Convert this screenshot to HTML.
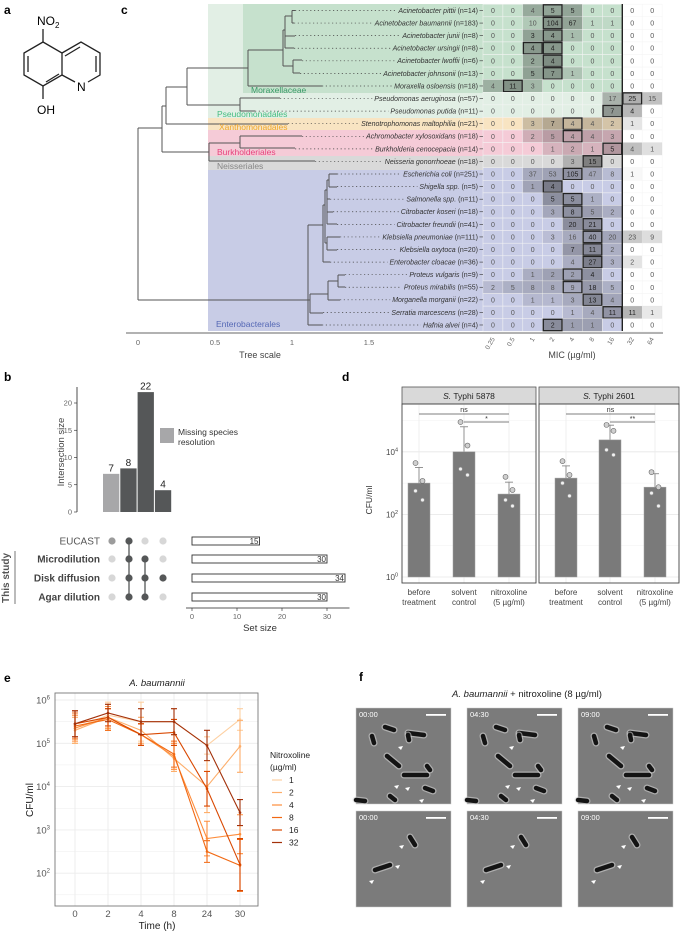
<!DOCTYPE html>
<html><head><meta charset="utf-8"><style>
html,body{margin:0;padding:0;background:#fff}
svg{display:block;font-family:"Liberation Sans",Arial,sans-serif}
</style></head><body>
<svg id="fig" width="685" height="933" viewBox="0 0 685 933" xmlns="http://www.w3.org/2000/svg">
<text x="4" y="14" font-size="12" font-weight="bold">a</text>
<text x="121" y="14" font-size="12" font-weight="bold">c</text>
<text x="4" y="381" font-size="12" font-weight="bold">b</text>
<text x="342" y="381" font-size="12" font-weight="bold">d</text>
<text x="4" y="682" font-size="12" font-weight="bold">e</text>
<text x="359" y="681" font-size="12" font-weight="bold">f</text>

<g stroke="#222" stroke-width="1.3" fill="none">
<polyline points="43,42 62,53 62,75 43,86 24,75 24,53 43,42"/>
<polyline points="62,53 81,42 100,53 100,75 88,82"/>
<line x1="62" y1="75" x2="75" y2="82"/>
<line x1="28" y1="56" x2="28" y2="72"/>
<line x1="46" y1="82" x2="59" y2="74"/>
<line x1="65" y1="56" x2="80" y2="47"/>
<line x1="96" y1="56" x2="96" y2="72"/>
<line x1="43" y1="42" x2="43" y2="29"/>
<line x1="43" y1="86" x2="43" y2="99"/>
</g>
<text x="37" y="25" font-size="12">NO<tspan font-size="8" dy="3">2</tspan></text>
<text x="77" y="91" font-size="12">N</text>
<text x="37" y="114" font-size="12">OH</text>

<rect x="208" y="4" width="275" height="114" fill="#e2efe5"/>
<rect x="243" y="4" width="240" height="89" fill="#c6e1cd"/>
<rect x="208" y="118" width="275" height="12" fill="#f8e4c2"/>
<rect x="208" y="130" width="275" height="26" fill="#f5cbd7"/>
<rect x="208" y="156" width="275" height="14" fill="#d9d9d9"/>
<rect x="208" y="170" width="275" height="161" fill="#c8cce6"/>
<g id="tree"></g>
<g id="heat"></g>
<text x="251" y="93" font-size="8.5" fill="#3a9a68">Moraxellaceae</text>
<text x="217" y="117" font-size="8.5" fill="#46bd82">Pseudomonadales</text>
<text x="219" y="130" font-size="8.5" fill="#efa62c">Xanthomonadales</text>
<text x="217" y="155" font-size="8.5" fill="#e6437d">Burkholderiales</text>
<text x="217" y="169" font-size="8.5" fill="#858585">Neisseriales</text>
<text x="216" y="327" font-size="8.5" fill="#5568b5">Enterobacterales</text>
<line x1="126" y1="333" x2="663" y2="333" stroke="#333" stroke-width="0.8"/>
<g font-size="7.5" fill="#666" text-anchor="middle">
<text x="138" y="345">0</text><text x="215" y="345">0.5</text><text x="292" y="345">1</text><text x="369" y="345">1.5</text></g>
<text x="260" y="358" font-size="9" fill="#444" text-anchor="middle">Tree scale</text>
<text x="572" y="358" font-size="9" fill="#444" text-anchor="middle">MIC (µg/ml)</text>

<g id="panelB"></g>
<g id="panelD"></g>
<g id="panelE"></g>
<g id="panelF"></g>
</svg>
<script>
const NS='http://www.w3.org/2000/svg';
function mk(tag,attrs,parent){const e=document.createElementNS(NS,tag);for(const k in attrs)e.setAttribute(k,attrs[k]);parent.appendChild(e);return e;}

const micCols=['0.25','0.5','1','2','4','8','16','32','64'];
const species=['Acinetobacter pittii','Acinetobacter baumannii','Acinetobacter junii','Acinetobacter ursingii','Acinetobacter lwoffii','Acinetobacter johnsonii','Moraxella osloensis','Pseudomonas aeruginosa','Pseudomonas putida','Stenotrophomonas maltophilia','Achromobacter xylosoxidans','Burkholderia cenocepacia','Neisseria gonorrhoeae','Escherichia coli','Shigella spp.','Salmonella spp.','Citrobacter koseri','Citrobacter freundii','Klebsiella pneumoniae','Klebsiella oxytoca','Enterobacter cloacae','Proteus vulgaris','Proteus mirabilis','Morganella morganii','Serratia marcescens','Hafnia alvei'];
const nCounts=[14,183,8,8,6,13,18,57,11,21,18,14,18,251,5,11,18,41,111,20,36,9,55,22,28,4];
const micCounts=[
[0,0,4,5,5,0,0,0,0],[0,0,10,104,67,1,1,0,0],[0,0,3,4,1,0,0,0,0],[0,0,4,4,0,0,0,0,0],[0,0,2,4,0,0,0,0,0],[0,0,5,7,1,0,0,0,0],[4,11,3,0,0,0,0,0,0],
[0,0,0,0,0,0,17,25,15],[0,0,0,0,0,0,7,4,0],[0,0,3,7,4,4,2,1,0],[0,0,2,5,4,4,3,0,0],[0,0,0,1,2,1,5,4,1],[0,0,0,0,3,15,0,0,0],
[0,0,37,53,105,47,8,1,0],[0,0,1,4,0,0,0,0,0],[0,0,0,5,5,1,0,0,0],[0,0,0,3,8,5,2,0,0],[0,0,0,0,20,21,0,0,0],[0,0,0,3,16,40,20,23,9],[0,0,0,0,7,11,2,0,0],[0,0,0,0,4,27,3,2,0],[0,0,1,2,2,4,0,0,0],[2,5,8,8,9,18,5,0,0],[0,0,1,1,3,13,4,0,0],[0,0,0,0,1,4,11,11,1],[0,0,0,2,1,1,0,0,0]];
const boxedCols=[[3],[3],[3],[2,3],[3],[3],[1],[7],[6],[4],[4],[6],[5],[4],[3],[4],[4],[5],[5],[5],[5],[4],[4],[5],[6],[3]];
const groupOf=[0,0,0,0,0,0,0,1,1,2,3,3,4,5,5,5,5,5,5,5,5,5,5,5,5,5];
const groupColors=['#c6e1cd','#e2efe5','#f8e4c2','#f5cbd7','#d9d9d9','#c8cce6'];
const leafTips=[295,294,295,294,302,300,322,280,255,288,302,295,315,337,337,330,333,337,340,337,330,345,345,340,323,322];

const colX=j=>483+19.9*j;
const rowTop=i=>4.2+12.58*i;
const rowC=i=>rowTop(i)+6.29;

const heat=document.getElementById('heat');
const tree=document.getElementById('tree');
micCounts.forEach((row,i)=>{
  row.forEach((v,j)=>{
    const base=j>=7?'#ffffff':groupColors[groupOf[i]];
    const c=mk('rect',{x:colX(j),y:rowTop(i),width:19.9,height:12.58,fill:base,stroke:'#f4f4f4','stroke-width':0.5},heat);
    
    
    const a=v>0?0.58*Math.sqrt(v/nCounts[i]):0;
    if(a>0){const o=mk('rect',{x:colX(j),y:rowTop(i),width:19.9,height:12.58,fill:'#303030','fill-opacity':a},heat);
      
      }
    const t=mk('text',{x:colX(j)+9.95,y:rowC(i)+2.5,'font-size':7,'text-anchor':'middle',fill:a>0.32?'#222':'#555'},heat);
    t.textContent=v;
    
    
  });
  boxedCols[i].forEach(j=>{
    const b=mk('rect',{x:colX(j)+0.6,y:rowTop(i)+0.6,width:18.7,height:11.4,fill:'none',stroke:'#222','stroke-width':1.3},heat);
    
    
  });
  const lab=mk('text',{x:478,y:rowC(i)+2.4,'font-size':7,'text-anchor':'end',fill:'#333'},heat);
  
  
  const s1=mk('tspan',{'font-style':'italic'},lab); s1.textContent=species[i];
  const s2=mk('tspan',{},lab); s2.textContent=' (n='+nCounts[i]+')';
  const tk=mk('line',{x1:479.5,y1:rowC(i),x2:483,y2:rowC(i),stroke:'#333','stroke-width':0.6},heat);
  
  
  let w=lab.getComputedTextLength?lab.getComputedTextLength():120;
  const dl=mk('line',{x1:leafTips[i],y1:rowC(i),x2:Math.max(leafTips[i],476-w),y2:rowC(i),stroke:'#444','stroke-width':0.7,'stroke-dasharray':'1.2 2.6'},tree);
  
  
});
const thr=mk('line',{x1:colX(7),y1:4,x2:colX(7),y2:331,stroke:'#222','stroke-width':1.4},heat);


micCols.forEach((m,j)=>{
  const t=mk('text',{x:0,y:0,'font-size':6.5,fill:'#666','text-anchor':'end',transform:`translate(${colX(j)+12},${339}) rotate(-60)`},heat);
  t.textContent=m;
  
  
});
const segs=[[138,128,138,300],[138,128,162,128],[138,300,308,300],[162,106,162,152],[162,106,166,106],[162,152,209,152],
[166,87,166,124],[166,124,288,124],[166,87,187,87],[187,68,187,105],[187,68,248,68],[187,105,240,105],
[240,98,240,111],[240,98,280,98],[240,111,255,111],[248,50,248,86],[248,86,322,86],[248,50,283,50],
[283,30,283,66],[283,66,293,66],[293,60,293,73],[293,60,302,60],[293,73,300,73],[283,30,285,30],
[285,16,285,48],[285,16,292,16],[285,36,295,36],[285,48,294,48],[292,10.5,292,23],[292,10.5,295,10.5],[292,23,294,23],
[209,143,209,161],[209,161,315,161],[209,143,240,143],[240,136,240,148],[240,136,302,136],[240,148,295,148],
[308,225,308,325],[308,325,322,325],[308,225,323,225],[310,294,310,313],[308,300,310,300],[310,313,323,313],[310,294,328,294],
[328,281,328,300],[328,300,340,300],[328,281,338,281],[338,275,338,287],[338,275,345,275],[338,287,345,287],
[323,205,323,262],[323,262,330,262],[323,205,325,205],[325,190,325,243],[325,243,327,243],[327,237,327,250],[327,237,340,237],[327,250,337,250],
[325,190,327,190],[327,180,327,224],[327,180,329,180],[329,174,329,187],[329,174,337,174],[329,187,337,187],[327,199,330,199],[327,212,333,212],[327,224,337,224]];
segs.forEach(s=>{const l=mk('line',{x1:s[0],y1:s[1],x2:s[2],y2:s[3],stroke:'#555','stroke-width':1},tree);
  
  });

/* ---------- panel b ---------- */
const interValues=[7,8,22,4];
const setNames=['EUCAST','Microdilution','Disk diffusion','Agar dilution'];
const setSizes=[15,30,34,30];
const interTicks=[0,5,10,15,20];
const setTicks=[0,10,20,30];
const memberships=[[0],[0,1,2,3],[1,2,3],[2]];
const B=document.getElementById('panelB');
const yB=v=>512-5.45*v, xS=v=>192+4.5*v;
const barX=[103,120.3,137.6,154.9], dotX=[112,129,145,163], rowYB=[541,559,578,597];
mk('line',{x1:77,y1:387,x2:77,y2:512,stroke:'#222','stroke-width':0.8},B);
interTicks.forEach(t=>{mk('line',{x1:74,y1:yB(t),x2:77,y2:yB(t),stroke:'#222','stroke-width':0.6},B);
 const tx=mk('text',{x:72,y:yB(t)+2.5,'font-size':7.5,fill:'#666','text-anchor':'end'},B);tx.textContent=t;
 
 });
const yl=mk('text',{x:0,y:0,'font-size':9.5,fill:'#444','text-anchor':'middle',transform:'translate(64,452) rotate(-90)'},B);yl.textContent='Intersection size';


interValues.forEach((v,i)=>{
 const r=mk('rect',{x:barX[i],y:yB(v),width:16.3,height:512-yB(v),fill:i==0?'#a7a7a9':'#555758'},B);
 
 
 const t=mk('text',{x:barX[i]+8.1,y:yB(v)-2.5,'font-size':10,'text-anchor':'middle',fill:'#222'},B);t.textContent=v;
 
 
});
const lg=mk('rect',{x:160,y:428,width:14,height:15,fill:'#a7a7a9'},B);


const lt=mk('text',{x:178,y:435,'font-size':8.5,fill:'#333'},B);lt.textContent='Missing species';


const lt2=mk('text',{x:178,y:445,'font-size':8.5,fill:'#333'},B);lt2.textContent='resolution';


setNames.forEach((n,r)=>{
 const t=mk('text',{x:100,y:rowYB[r]+3.5,'font-size':10,'text-anchor':'end',fill:r==0?'#555':'#444','font-weight':r==0?'normal':'bold'},B);t.textContent=n;
 
 
 dotX.forEach((x,c)=>{const on=memberships[c].includes(r);
  const d=mk('circle',{cx:x,cy:rowYB[r],r:3.6,fill:on?(c==0?'#9c9c9c':'#555758'):'#d7d7d7'},B);
  
  });
 const sb=mk('rect',{x:xS(0),y:rowYB[r]-4,width:xS(setSizes[r])-xS(0),height:8,fill:'#fff',stroke:'#333','stroke-width':0.9},B);
 
 
 const sv=mk('text',{x:xS(setSizes[r])-1,y:rowYB[r]+3,'font-size':8,'text-anchor':'end',fill:'#333'},B);sv.textContent=setSizes[r];
 
 
});
memberships.forEach((m,c)=>{if(m.length>1){const ys=m.map(r=>rowYB[r]);
 const l=mk('line',{x1:dotX[c],y1:Math.min(...ys),x2:dotX[c],y2:Math.max(...ys),stroke:'#555758','stroke-width':1.3},B);
 
 }});
const st=mk('text',{x:0,y:0,'font-size':10,'font-weight':'bold',fill:'#555','text-anchor':'middle',transform:'translate(9,578) rotate(-90)'},B);st.textContent='This study';


mk('line',{x1:15,y1:551,x2:15,y2:604,stroke:'#777','stroke-width':1},B);
mk('line',{x1:186,y1:608,x2:xS(35),y2:608,stroke:'#222','stroke-width':0.8},B);
setTicks.forEach(t=>{mk('line',{x1:xS(t),y1:608,x2:xS(t),y2:611,stroke:'#222','stroke-width':0.6},B);
 const tx=mk('text',{x:xS(t),y:619,'font-size':7.5,fill:'#666','text-anchor':'middle'},B);tx.textContent=t;
 
 });
const sst=mk('text',{x:260,y:631,'font-size':9.5,fill:'#333','text-anchor':'middle'},B);sst.textContent='Set size';



/* ---------- panel d ---------- */
const strainNames=['Typhi 5878','Typhi 2601'];
const treatments=[['before','treatment'],['solvent','control'],['nitroxoline','(5 µg/ml)']];
const barMeansLog=[[3.0,4.0,2.65],[3.16,4.38,2.87]];
const barUpperLog=[[3.5,4.8,3.03],[3.55,4.85,3.3]];
const pointsLog=[[[3.64,3.07,2.75,2.46],[4.95,4.2,3.45,3.26],[3.2,2.78,2.46,2.27]],[[3.7,3.26,3.0,2.59],[4.86,4.67,4.06,3.9],[3.35,2.87,2.68,2.27]]];
const sigLabels=[['ns','*'],['ns','**']];
const yTicksD=[0,2,4];
const D=document.getElementById('panelD');
const yD=l=>577-31.3*l;
const panX=[[402,536],[539,679]], barCx=[[419,464,509],[566,610,655]];
[0,1].forEach(p=>{
 const [x0,x1]=panX[p];
 const strip=mk('rect',{x:x0,y:387,width:x1-x0,height:17,fill:'#d9d9d9',stroke:'#555','stroke-width':0.8},D);
 
 
 const sl=mk('text',{x:(x0+x1)/2,y:399,'font-size':8.5,'text-anchor':'middle',fill:'#222'},D);
 
 
 const i1=mk('tspan',{'font-style':'italic'},sl);i1.textContent='S.';const i2=mk('tspan',{},sl);i2.textContent=' '+strainNames[p];
 for(let l=0;l<=5;l+=1){mk('line',{x1:x0,y1:yD(l),x2:x1,y2:yD(l),stroke:l%2==0?'#e6e6e6':'#f2f2f2','stroke-width':l%2==0?0.8:0.5},D);}
 barCx[p].forEach(x=>mk('line',{x1:x,y1:404,x2:x,y2:583,stroke:'#ebebeb','stroke-width':0.8},D));
 barCx[p].forEach((x,k)=>{
  const m=barMeansLog[p][k];
  mk('line',{x1:x,y1:yD(m),x2:x,y2:yD(barUpperLog[p][k]),stroke:'#888','stroke-width':0.9},D);
  mk('line',{x1:x-4,y1:yD(barUpperLog[p][k]),x2:x+4,y2:yD(barUpperLog[p][k]),stroke:'#888','stroke-width':0.9},D);
  const r=mk('rect',{x:x-11,y:yD(m),width:22,height:yD(0)-yD(m),fill:'#7a7a7a',stroke:'#a0a0a0','stroke-width':0.5},D);
  
  
  pointsLog[p][k].forEach((v,q)=>{
   const c=mk('circle',{cx:x+(q%2?3.5:-3.5),cy:yD(v),r:q<2?2.5:1.8,fill:q<2?'#cfcfcf':'#f2f2f2',stroke:q<2?'#666':'#999','stroke-width':0.6},D);
   
   
  });
  treatments[k].forEach((s,li)=>{const t=mk('text',{x:x,y:595+li*10,'font-size':8,'text-anchor':'middle',fill:'#444'},D);t.textContent=s;
   
   });
 });
 mk('line',{x1:barCx[p][0],y1:414,x2:barCx[p][2],y2:414,stroke:'#555','stroke-width':0.7},D);
 mk('line',{x1:barCx[p][1],y1:422,x2:barCx[p][2],y2:422,stroke:'#555','stroke-width':0.7},D);
 const s1=mk('text',{x:(barCx[p][0]+barCx[p][2])/2,y:412,'font-size':7,'text-anchor':'middle',fill:'#333'},D);s1.textContent=sigLabels[p][0];
 
 
 const s2=mk('text',{x:(barCx[p][1]+barCx[p][2])/2,y:421,'font-size':7,'text-anchor':'middle',fill:'#333'},D);s2.textContent=sigLabels[p][1];
 
 
 const fr=mk('rect',{x:x0,y:404,width:x1-x0,height:179,fill:'none',stroke:'#444','stroke-width':0.9},D);
 
 
});
yTicksD.forEach(l=>{const t=mk('text',{x:398,y:yD(l)+3,'font-size':8,'text-anchor':'end',fill:'#444'},D);
 
 
 const a=mk('tspan',{},t);a.textContent='10';const b=mk('tspan',{'font-size':5.5,dy:-3.5},t);b.textContent=l;});
const dyl=mk('text',{x:0,y:0,'font-size':8.5,'text-anchor':'middle',fill:'#333',transform:'translate(372,500) rotate(-90)'},D);dyl.textContent='CFU/ml';



/* ---------- panel e ---------- */
const timeLabels=['0','2','4','8','24','30'];
const concLabels=['1','2','4','8','16','32'];
const seriesColors=['#fdd0a2','#fdae6b','#fd8d3c','#f16913','#d94801','#a3310a'];
const cfu1=[5.35,5.65,5.5,5.5,4.95,5.55];
const cfu2=[5.3,5.6,5.3,4.65,4.0,4.93];
const cfu4=[5.35,5.6,5.2,4.7,2.8,2.9];
const cfu8=[5.4,5.55,5.2,4.75,2.5,2.18];
const cfu16=[5.45,5.6,5.2,5.25,3.95,2.2];
const cfu32=[5.45,5.7,5.5,5.5,4.95,3.4];
const err1=[0.35,0.3,0.45,0.3,0.2,0.25];
const err2=[0.3,0.3,0.3,0.3,0.6,0.6];
const err4=[0.3,0.25,0.25,0.3,0.4,0.45];
const err8=[0.3,0.25,0.25,0.3,0.25,0.6];
const err16=[0.3,0.2,0.25,0.3,0.4,0.6];
const err32=[0.3,0.2,0.3,0.3,0.35,0.3];
const eTicks=[2,3,4,5,6];
const E=document.getElementById('panelE');
const yE=l=>700+43.3*(6-l);
const xE=i=>75+33*i;
const et=mk('text',{x:157,y:686,'font-size':9.5,'font-style':'italic','text-anchor':'middle',fill:'#222'},E);et.textContent='A. baumannii';


for(let l=1.5;l<=6.5;l+=0.5){if(yE(l)>693&&yE(l)<906)mk('line',{x1:55,y1:yE(l),x2:258,y2:yE(l),stroke:'#ececec','stroke-width':l%1==0?0.9:0.5},E);}
timeLabels.forEach((t,i)=>{mk('line',{x1:xE(i),y1:693,x2:xE(i),y2:906,stroke:'#ececec','stroke-width':0.9},E);
 const tx=mk('text',{x:xE(i),y:917,'font-size':9.5,'text-anchor':'middle',fill:'#555'},E);tx.textContent=t;
 
 });
const allS=[cfu1,cfu2,cfu4,cfu8,cfu16,cfu32], allE=[err1,err2,err4,err8,err16,err32];
allS.forEach((s,k)=>{
 const pl=mk('polyline',{points:s.map((v,i)=>xE(i)+','+yE(v)).join(' '),fill:'none',stroke:seriesColors[k],'stroke-width':1.1},E);
 
 
 s.forEach((v,i)=>{const e=allE[k][i];
  const g=mk('path',{d:`M${xE(i)-3},${yE(v+e)}H${xE(i)+3}M${xE(i)},${yE(v+e)}V${yE(v-e)}M${xE(i)-3},${yE(v-e)}H${xE(i)+3}`,stroke:seriesColors[k],'stroke-width':1.1,fill:'none'},E);
  
  
  const c=mk('circle',{cx:xE(i),cy:yE(v),r:1.3,fill:seriesColors[k]},E);
  
  
 });
});
mk('rect',{x:55,y:693,width:203,height:213,fill:'none',stroke:'#777','stroke-width':0.9},E);
eTicks.forEach(l=>{const t=mk('text',{x:50,y:yE(l)+3.5,'font-size':9.5,'text-anchor':'end',fill:'#555'},E);
 
 
 const a=mk('tspan',{},t);a.textContent='10';const b=mk('tspan',{'font-size':6,dy:-4},t);b.textContent=l;});
const eyl=mk('text',{x:0,y:0,'font-size':10,'text-anchor':'middle',fill:'#222',transform:'translate(33,800) rotate(-90)'},E);eyl.textContent='CFU/ml';


const exl=mk('text',{x:157,y:929,'font-size':10,'text-anchor':'middle',fill:'#222'},E);exl.textContent='Time (h)';


const lgt=mk('text',{x:270,y:758,'font-size':8.5,fill:'#222'},E);lgt.textContent='Nitroxoline';


const lgt2=mk('text',{x:270,y:770,'font-size':8.5,fill:'#222'},E);lgt2.textContent='(µg/ml)';


concLabels.forEach((c,k)=>{const y=780+12.5*k;
 const l=mk('line',{x1:272,y1:y,x2:282,y2:y,stroke:seriesColors[k],'stroke-width':1.2},E);
 
 
 const t=mk('text',{x:289,y:y+3,'font-size':8.5,fill:'#222'},E);t.textContent=c;
 
 });

/* ---------- panel f ---------- */
const F=document.getElementById('panelF');
const ft=mk('text',{x:527,y:697,'font-size':9.5,'text-anchor':'middle',fill:'#222'},F);


const f1=mk('tspan',{'font-style':'italic'},ft);f1.textContent='A. baumannii';const f2=mk('tspan',{},ft);f2.textContent=' + nitroxoline (8 µg/ml)';
const imgX=[356,467,578], imgY=[708,811], times=['00:00','04:30','09:00'];
const rodsTop=[[29,19,38,22],[16,28,18,35],[52,25,68,27],[52,27,53,32],[31,48,43,58],[48,67,71,67],[71,58,74,62],[69,80,77,83],[34,88,39,92],[0,92,9,93]];
const arrowsTop=[[47,38],[43,77],[54,79],[68,91]];
const rodsBot=[[54,26,59,34],[19,59,34,54]];
const arrowsBot=[[48,34],[44,54],[18,69]];
imgY.forEach((y0,r)=>imgX.forEach((x0,c)=>{
 const g=mk('g',{transform:`translate(${x0},${y0})`},F);
 
 
 mk('rect',{x:0,y:0,width:95,height:96,fill:'#7b7b7b',stroke:'#ccc','stroke-width':0.5},g);
 (r==0?rodsTop:rodsBot).forEach(d=>{
  mk('line',{x1:d[0],y1:d[1],x2:d[2],y2:d[3],stroke:'#d8d8d8','stroke-width':7,'stroke-linecap':'round','stroke-opacity':0.55},g);
  mk('line',{x1:d[0],y1:d[1],x2:d[2],y2:d[3],stroke:'#141414','stroke-width':4.5,'stroke-linecap':'round'},g);
 });
 (r==0?arrowsTop:arrowsBot).forEach(a=>mk('polygon',{points:`${a[0]},${a[1]} ${a[0]-5},${a[1]+1} ${a[0]-2},${a[1]+4}`,fill:'#fff'},g));
 const t=mk('text',{x:3,y:9,'font-size':7.5,fill:'#fff'},g);t.textContent=times[c];
 
 
 mk('rect',{x:70,y:6,width:20,height:1.8,fill:'#fff'},g);
}));
</script>
</body></html>
